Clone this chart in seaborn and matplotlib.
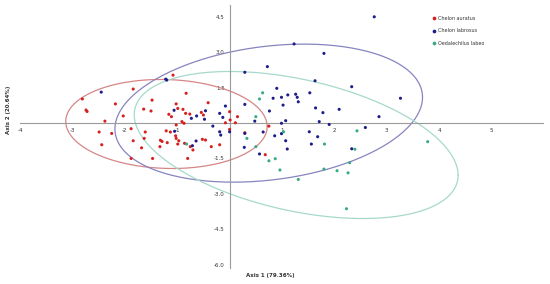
import numpy as np
import pandas as pd
import matplotlib
matplotlib.use("Agg")
import matplotlib.pyplot as plt
import seaborn as sns

# species labels and PCA scores (Axis 1, Axis 2)
species = ["Chelon auratus", "Chelon labrosus", "Oedalechilus labeo"]

auratus_x = [-2.81, -2.74, -2.72, -1.84, -1.08, -0.83, -2.18, -1.48, -1.64, -1.50,
             -1.02, -0.99, -2.03, -2.38, -1.16, -1.11, -0.89, -0.84, -0.91, -0.87,
             -1.02, -2.49, -2.25, -1.88, -1.61, -1.21, -1.13, -1.03, -1.02, -1.63,
             -1.84, -1.32, -1.29, -1.19, -2.44, -1.33, -1.68, -0.97, -0.99, -1.88,
             -1.47, -0.80, -0.75, -0.86, -0.54, -0.50, -0.41, -0.46, -0.35, 0.00,
             0.01, 0.00, 0.15, -0.08, 0.11, 0.29, -0.19, 0.68, 0.75, -0.76,
             -0.70, -0.52]
auratus_y = [1.02, 0.55, 0.49, 1.44, 2.03, 1.26, 0.81, 0.97, 0.59, 0.51,
             0.81, 0.62, 0.30, 0.08, 0.37, 0.27, 0.58, 0.41, 0.06, -0.01,
             -0.08, -0.38, -0.44, -0.24, -0.38, -0.33, -0.38, -0.54, -0.65, -0.65,
             -0.75, -0.73, -0.78, -0.83, -0.92, -1.00, -1.05, -0.75, -0.89, -1.50,
             -1.50, -1.50, -1.00, -0.86, 0.45, 0.34, 0.86, -0.72, -1.00, 0.48,
             0.13, -0.27, 0.27, 0.01, 0.01, -0.41, -0.92, -1.34, -0.13, 0.38,
             -1.14, -0.69]

labrosus_x = [-2.45, -1.22, -1.20, -1.06, -1.05, -0.71, -0.64, -0.73, -0.63, -0.46,
              -0.19, -0.19, -0.17, -0.08, -0.13, -0.32, 0.00, 0.29, 0.28, 0.29,
              0.29, 0.72, 1.23, 2.76, 1.80, 1.63, 0.90, 0.83, 0.99, 1.11,
              1.26, 1.29, 1.31, 1.53, 1.64, 1.71, 0.76, 0.48, 1.07, 0.99,
              0.64, 0.86, 0.99, 1.52, 1.68, 1.07, 1.10, 0.57, 1.56, 2.33,
              3.26, 2.09, 1.78, 2.85, 1.90, 2.59, 2.33, 1.02, -0.48]
labrosus_y = [1.31, 1.86, 1.82, 0.54, -0.35, -0.96, -0.76, 0.20, 0.30, 0.52,
              0.41, -0.37, -0.51, 0.72, 0.24, -0.13, -0.37, -0.44, -1.03, 0.79,
              2.15, 2.39, 3.35, 4.50, 2.95, 1.79, 1.47, 1.05, 1.09, 1.19,
              1.22, 1.09, 0.90, 1.28, 0.64, 0.06, 0.51, 0.08, 0.10, -0.01,
              -0.38, -0.54, -0.45, -0.37, -0.58, -0.75, -1.10, -1.31, -0.89, 1.54,
              1.05, 0.58, 0.44, 0.27, -0.06, -0.19, -1.09, 0.76, 0.16]

labeo_x = [-0.82, 0.33, 0.50, 0.50, 0.75, 0.63, 0.57, 1.03, 0.87, 0.96,
           1.31, 1.81, 2.39, 2.43, 1.80, 2.05, 2.26, 2.29, 2.23, 3.78]
labeo_y = [-0.89, -0.65, 0.27, -1.00, -1.60, 1.28, 1.02, -0.37, -1.51, -1.99,
           -2.39, -0.89, -1.11, -0.33, -1.95, -2.02, -2.11, -1.68, -3.63, -0.79]

# confidence ellipses: centre and shape matrix [[sxx, sxy], [sxy, syy]]
ell_center = [(-1.205, -0.04), (0.746, 0.42), (1.27, -0.93)]
ell_shape = [[[3.693, -0.207], [-0.207, 3.555]],
             [[8.614, 1.969], [1.969, 8.548]],
             [[9.55, -3.95], [-3.95, 9.70]]]

x_ticks = [-4, -3, -2, -1, 1, 2, 3, 4, 5]
y_ticks = [4.5, 3.0, 1.5, -1.5, -3.0, -4.5, -6.0]

point_colors = ["#d62020", "#1c1c8a", "#3aaa84"]
ellipse_colors = ["#d68686", "#8784c0", "#a6d9cc"]

df = pd.DataFrame({
    "Axis 1": auratus_x + labrosus_x + labeo_x,
    "Axis 2": auratus_y + labrosus_y + labeo_y,
    "Species": [species[0]] * len(auratus_x) + [species[1]] * len(labrosus_x)
               + [species[2]] * len(labeo_x),
})

sns.set_style("white")
fig = plt.figure(figsize=(5.5, 2.84), dpi=100)
ax = fig.add_axes([20 / 550, 16 / 284, 523 / 550, 263 / 284])

# ellipses first so points sit on top
t = np.linspace(0, 2 * np.pi, 300)
circle = np.vstack([np.cos(t), np.sin(t)])
for c, s, col in zip(ell_center, ell_shape, ellipse_colors):
    L = np.linalg.cholesky(np.array(s))
    pts = L @ circle
    ax.plot(pts[0] + c[0], pts[1] + c[1], color=col, lw=0.9, zorder=2)

sns.scatterplot(data=df, x="Axis 1", y="Axis 2", hue="Species",
                hue_order=species, palette=point_colors, s=5,
                linewidth=0, ax=ax, zorder=3)

ax.set_xlim(-4, 5.98)
ax.set_ylim(-6.14, 5.0)

# axes crossing at the origin
for side in ["top", "right"]:
    ax.spines[side].set_visible(False)
for side in ["left", "bottom"]:
    ax.spines[side].set_position("zero")
    ax.spines[side].set_color("#9a9a9a")
    ax.spines[side].set_linewidth(0.8)

ax.set_xticks(x_ticks)
ax.set_xticklabels([str(v) for v in x_ticks])
ax.set_yticks(y_ticks)
ax.set_yticklabels([f"{v:.1f}" for v in y_ticks])
ax.tick_params(axis="both", labelsize=4, length=2, width=0.5,
               color="#9a9a9a", pad=1.5, labelcolor="#333333")
ax.set_xlabel("")
ax.set_ylabel("")

fig.text(270 / 550, 1 - 276 / 284, "Axis 1 (79.36%)", fontsize=4,
         fontweight="bold", color="#333333", ha="center", va="center")
fig.text(9 / 550, 1 - 110 / 284, "Axis 2 (20.64%)", fontsize=4,
         fontweight="bold", color="#333333", ha="center", va="center",
         rotation=90)

leg = ax.legend(loc="upper left", bbox_to_anchor=(430 / 550, 1 - 14 / 284),
                bbox_transform=fig.transFigure, frameon=False, fontsize=3.5,
                markerscale=1.2, handletextpad=0.2, labelspacing=1.5,
                handlelength=1.0, borderaxespad=0)
for txt in leg.get_texts():
    txt.set_color("#333333")

fig.savefig("out.png", dpi=100)
